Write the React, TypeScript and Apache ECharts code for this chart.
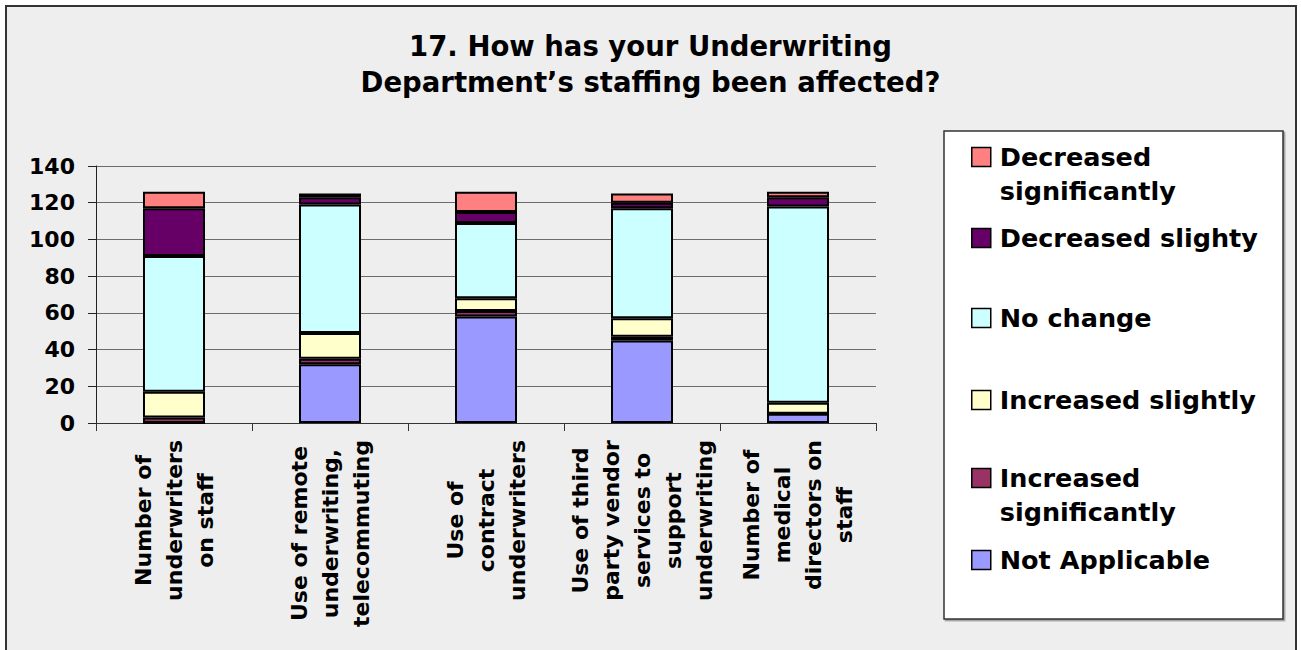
import React, { useEffect, useRef } from "react";
import * as echarts from "echarts";

const FONT = "'DejaVu Sans', Verdana, sans-serif";

const titleText = "17. How has your Underwriting\nDepartment\u2019s staffing been affected?";

const categories = [
  "Number of\nunderwriters\non staff",
  "Use of remote\nunderwriting,\ntelecommuting",
  "Use of\ncontract\nunderwriters",
  "Use of third\nparty vendor\nservices to\nsupport\nunderwriting",
  "Number of\nmedical\ndirectors on\nstaff",
];

const yTicks = { min: 0, max: 140, interval: 20 };

// stacked from bottom to top
const notApplicable = [0, 32, 58, 45, 5];
const increasedSignificantly = [3, 3, 3, 2, 0];
const increasedSlightly = [14, 14, 7, 10, 6];
const noChange = [74, 70, 41, 60, 107];
const decreasedSlighty = [26, 4, 6, 3, 5];
const decreasedSignificantly = [9, 2, 11, 5, 3];

const seriesNames = [
  "Not Applicable",
  "Increased significantly",
  "Increased slightly",
  "No change",
  "Decreased slighty",
  "Decreased significantly",
];
const seriesData = [
  notApplicable,
  increasedSignificantly,
  increasedSlightly,
  noChange,
  decreasedSlighty,
  decreasedSignificantly,
];
const seriesColors = ["#9999FF", "#993366", "#FFFFCC", "#CCFFFF", "#660066", "#FF8080"];

const legendLabels: Record<string, string> = {
  "Decreased significantly": "Decreased\nsignificantly",
  "Decreased slighty": "Decreased slighty",
  "No change": "No change",
  "Increased slightly": "Increased slightly",
  "Increased significantly": "Increased\nsignificantly",
  "Not Applicable": "Not Applicable",
};
const legendOrder = [
  "Decreased significantly",
  "Decreased slighty",
  "No change",
  "Increased slightly",
  "Increased significantly",
  "Not Applicable",
];
// y of the first text line of each legend entry
const legendFirstLine = [157, 238, 318, 400, 478, 560];

const LINE_H = 34;
const ICON = 19;

function buildOption() {
  const legends = legendOrder.map((name, i) => {
    const twoLine = legendLabels[name].includes("\n");
    const tallH = ICON + LINE_H;
    return {
      orient: "vertical",
      left: 971,
      top: legendFirstLine[i] - LINE_H / 2,
      padding: 0,
      icon: twoLine
        ? `path://M0,0L${ICON},0L${ICON},${ICON}L0,${ICON}Z M0,${tallH}L0.001,${tallH}`
        : "rect",
      itemWidth: ICON,
      itemHeight: twoLine ? tallH : ICON,
      selectedMode: false,
      data: [name],
      formatter: (n: string) => legendLabels[n],
      itemStyle: { borderColor: "#000", borderWidth: 1.5 },
      textStyle: {
        fontSize: 25.5,
        fontWeight: "bold",
        fontFamily: FONT,
        color: "#000",
        lineHeight: LINE_H,
        padding: [0, 0, 0, 4],
      },
    };
  });

  return {
    animation: false,
    title: {
      text: titleText,
      left: "center",
      top: 28,
      padding: 0,
      textStyle: {
        fontSize: 27.5,
        fontWeight: "bold",
        fontFamily: FONT,
        color: "#000",
        lineHeight: 36,
      },
    },
    graphic: [
      {
        type: "rect",
        z: 0,
        shape: { x: 944, y: 131, width: 339, height: 488 },
        style: {
          fill: "#ffffff",
          stroke: "#333",
          lineWidth: 1.5,
          shadowColor: "rgba(0,0,0,0.35)",
          shadowOffsetX: 1.5,
          shadowOffsetY: 1.5,
          shadowBlur: 0,
        },
      },
    ],
    legend: legends,
    grid: { left: 96, right: 425, top: 166, bottom: 227, containLabel: false },
    xAxis: {
      type: "category",
      data: categories,
      axisLine: { show: true, lineStyle: { color: "#333", width: 1 } },
      axisTick: { show: true, length: 8, lineStyle: { color: "#333" } },
      axisLabel: {
        interval: 0,
        rotate: 90,
        margin: 17,
        formatter: (v: string) =>
          v
            .split("\n")
            .map((l) => `{c|${l}}`)
            .join("\n"),
        rich: {
          c: {
            align: "center",
            fontSize: 22,
            fontWeight: "bold",
            fontFamily: FONT,
            color: "#000",
            lineHeight: 31,
          },
        },
      },
    },
    yAxis: {
      type: "value",
      min: yTicks.min,
      max: yTicks.max,
      interval: yTicks.interval,
      axisLine: { show: true, lineStyle: { color: "#222", width: 1 } },
      axisTick: { show: true, length: 8, lineStyle: { color: "#222" } },
      splitLine: { show: true, lineStyle: { color: "#6b6b6b", width: 1 } },
      axisLabel: {
        margin: 21,
        fontSize: 22,
        fontWeight: "bold",
        fontFamily: FONT,
        color: "#000",
      },
    },
    series: seriesNames.map((name, i) => ({
      name,
      type: "bar",
      stack: "total",
      barWidth: 62,
      data: seriesData[i],
      itemStyle: { color: seriesColors[i], borderColor: "#000", borderWidth: 2 },
      emphasis: { disabled: true },
    })),
  };
}

export default function App() {
  const ref = useRef<HTMLDivElement>(null);
  useEffect(() => {
    if (!ref.current) return;
    const chart = echarts.init(ref.current, null, { renderer: "svg" });
    chart.setOption(buildOption() as any);
    return () => chart.dispose();
  }, []);
  return (
    <div style={{ position: "absolute", left: 0, top: 0, width: 1301, height: 650, background: "#fff", overflow: "hidden" }}>
      <div
        style={{
          position: "absolute",
          left: 5,
          top: 5,
          width: 1288,
          height: 660,
          background: "#eeeeee",
          border: "2px solid #333",
        }}
      />
      <div ref={ref} style={{ position: "absolute", left: 0, top: 0, width: 1301, height: 650 }} />
    </div>
  );
}
